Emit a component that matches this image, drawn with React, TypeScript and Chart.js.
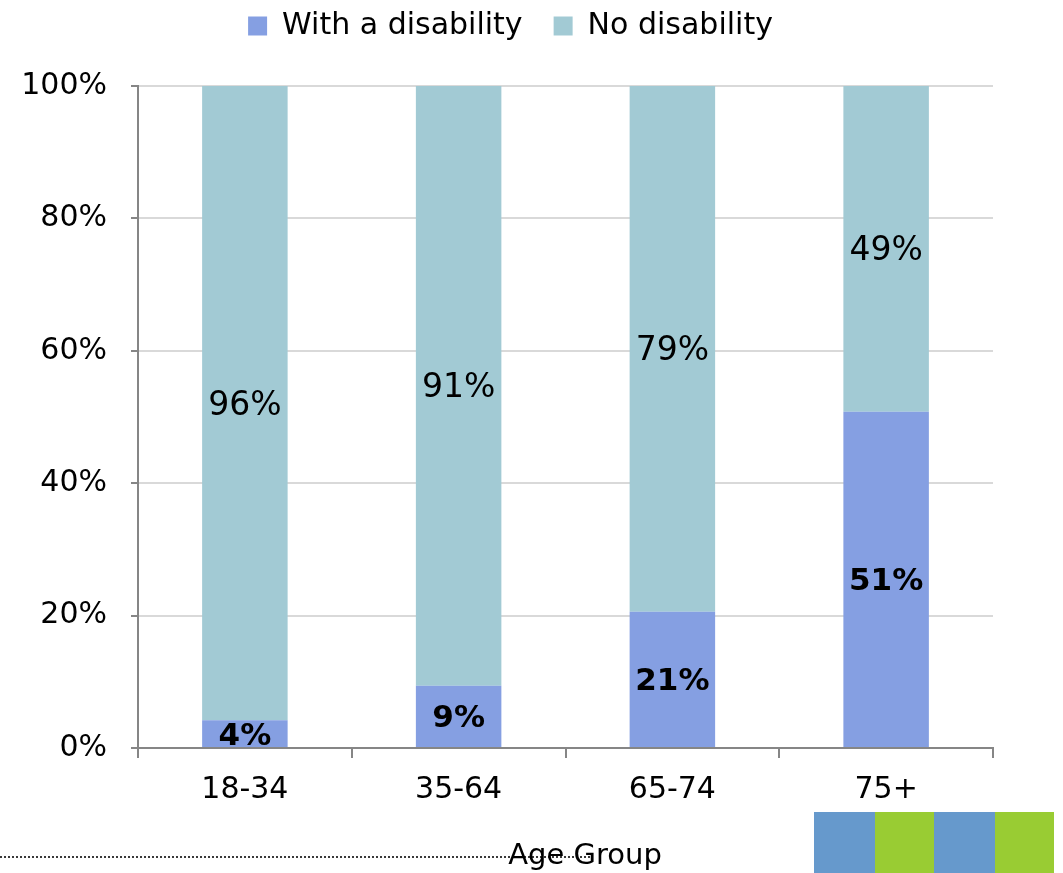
import React, { useEffect, useRef } from 'react';
import { Chart, registerables } from 'chart.js';

Chart.register(...registerables);

const categories = ['18-34', '35-64', '65-74', '75+'];
const seriesNames = ['With a disability', 'No disability'];
const withDisability = [4.2, 9.4, 20.6, 50.8];
const noDisability = [95.8, 90.6, 79.4, 49.2];
const yTickValues = [0, 20, 40, 60, 80, 100];
const axisTitle = 'Age Group';

const FONT = "'DejaVu Sans', sans-serif";
const COLOR_WITH = '#859FE2';
const COLOR_NO = '#A2CAD4';
const AXIS_GRAY = '#868686';
const GRID_GRAY = '#D9D9D9';

const legendSpacer = {
  id: 'legendSpacer',
  beforeInit(chart: any) {
    const legend = chart.legend;
    if (!legend) return;
    const origFit = legend.fit;
    legend.fit = function () {
      origFit.call(this);
      this.height += 35;
    };
  },
  afterLayout(chart: any) {
    const legend = chart.legend;
    if (!legend) return;
    legend.left += 14;
    legend.right += 14;
  },
};

const barLabels = {
  id: 'barLabels',
  afterDatasetsDraw(chart: any) {
    const ctx = chart.ctx;
    ctx.save();
    ctx.fillStyle = '#000000';
    ctx.textAlign = 'center';
    ctx.textBaseline = 'middle';
    chart.data.datasets.forEach((ds: any, i: number) => {
      const meta = chart.getDatasetMeta(i);
      ctx.font = i === 0 ? 'bold 31px ' + FONT : '33px ' + FONT;
      meta.data.forEach((bar: any, j: number) => {
        const p = bar.getCenterPoint();
        ctx.fillText(Math.round(ds.data[j]) + '%', p.x, p.y + 3);
      });
    });
    ctx.restore();
  },
};

const decorations = {
  id: 'decorations',
  afterDraw(chart: any) {
    const ctx = chart.ctx;
    const H = chart.height;
    ctx.save();
    // dotted rule
    ctx.strokeStyle = '#3a3a3a';
    ctx.lineWidth = 2;
    ctx.setLineDash([2, 2]);
    ctx.beginPath();
    ctx.moveTo(0, 857);
    ctx.lineTo(590, 857);
    ctx.stroke();
    ctx.setLineDash([]);
    // axis title
    ctx.fillStyle = '#000000';
    ctx.font = '29px ' + FONT;
    ctx.textAlign = 'center';
    ctx.textBaseline = 'alphabetic';
    ctx.fillText(axisTitle, 585, 864);
    // corner squares
    const sq = [
      [814, 61, '#6699CC'],
      [875, 59, '#99CC33'],
      [934, 61, '#6699CC'],
      [995, 59, '#99CC33'],
    ];
    sq.forEach(([x, w, c]) => {
      ctx.fillStyle = c as string;
      ctx.fillRect(x as number, 812, w as number, H - 812);
    });
    ctx.restore();
  },
};

export default function App() {
  const ref = useRef<HTMLCanvasElement>(null);
  useEffect(() => {
    if (!ref.current) return;
    const chart = new Chart(ref.current, {
      type: 'bar',
      data: {
        labels: categories,
        datasets: [
          {
            label: seriesNames[0],
            data: withDisability,
            backgroundColor: COLOR_WITH,
            borderWidth: 0,
            categoryPercentage: 1,
            barPercentage: 0.4,
          },
          {
            label: seriesNames[1],
            data: noDisability,
            backgroundColor: COLOR_NO,
            borderWidth: 0,
            categoryPercentage: 1,
            barPercentage: 0.4,
          },
        ],
      },
      options: {
        responsive: false,
        animation: false,
        devicePixelRatio: 1,
        layout: { padding: { top: -20, left: 0, right: 70, bottom: 0 } },
        plugins: {
          legend: {
            position: 'top',
            align: 'center',
            labels: {
              boxWidth: 19,
              boxHeight: 19,
              padding: 31,
              color: '#000000',
              font: { family: FONT, size: 30 },
            },
          },
          tooltip: { enabled: false },
        },
        scales: {
          x: {
            stacked: true,
            offset: true,
            grid: {
              display: true,
              offset: true,
              drawOnChartArea: false,
              drawTicks: true,
              tickLength: 10,
              tickColor: AXIS_GRAY,
              lineWidth: 2,
              color: AXIS_GRAY,
            },
            border: { display: true, color: AXIS_GRAY, width: 2 },
            ticks: {
              color: '#000000',
              font: { family: FONT, size: 30 },
              padding: 14,
            },
            afterFit(scale: any) {
              scale.height = 125;
            },
          },
          y: {
            stacked: true,
            min: 0,
            max: 100,
            afterBuildTicks(scale: any) {
              scale.ticks = yTickValues.map((v) => ({ value: v }));
            },
            grid: {
              color: (c: any) => (c.tick && c.tick.value === 0 ? AXIS_GRAY : GRID_GRAY),
              lineWidth: 2,
              tickLength: 7,
              tickColor: AXIS_GRAY,
            },
            border: { display: true, color: AXIS_GRAY, width: 2 },
            ticks: {
              color: '#000000',
              font: { family: FONT, size: 30 },
              padding: 24,
              callback: (v: any) => v + '%',
            },
            afterFit(scale: any) {
              scale.width = 138;
            },
          },
        },
      },
      plugins: [legendSpacer, barLabels, decorations],
    });
    return () => chart.destroy();
  }, []);
  return (
    <div style={{ position: 'absolute', left: 0, top: 0, width: 1063, height: 873, background: '#ffffff' }}>
      <canvas ref={ref} width={1063} height={873} style={{ display: 'block' }} />
    </div>
  );
}
